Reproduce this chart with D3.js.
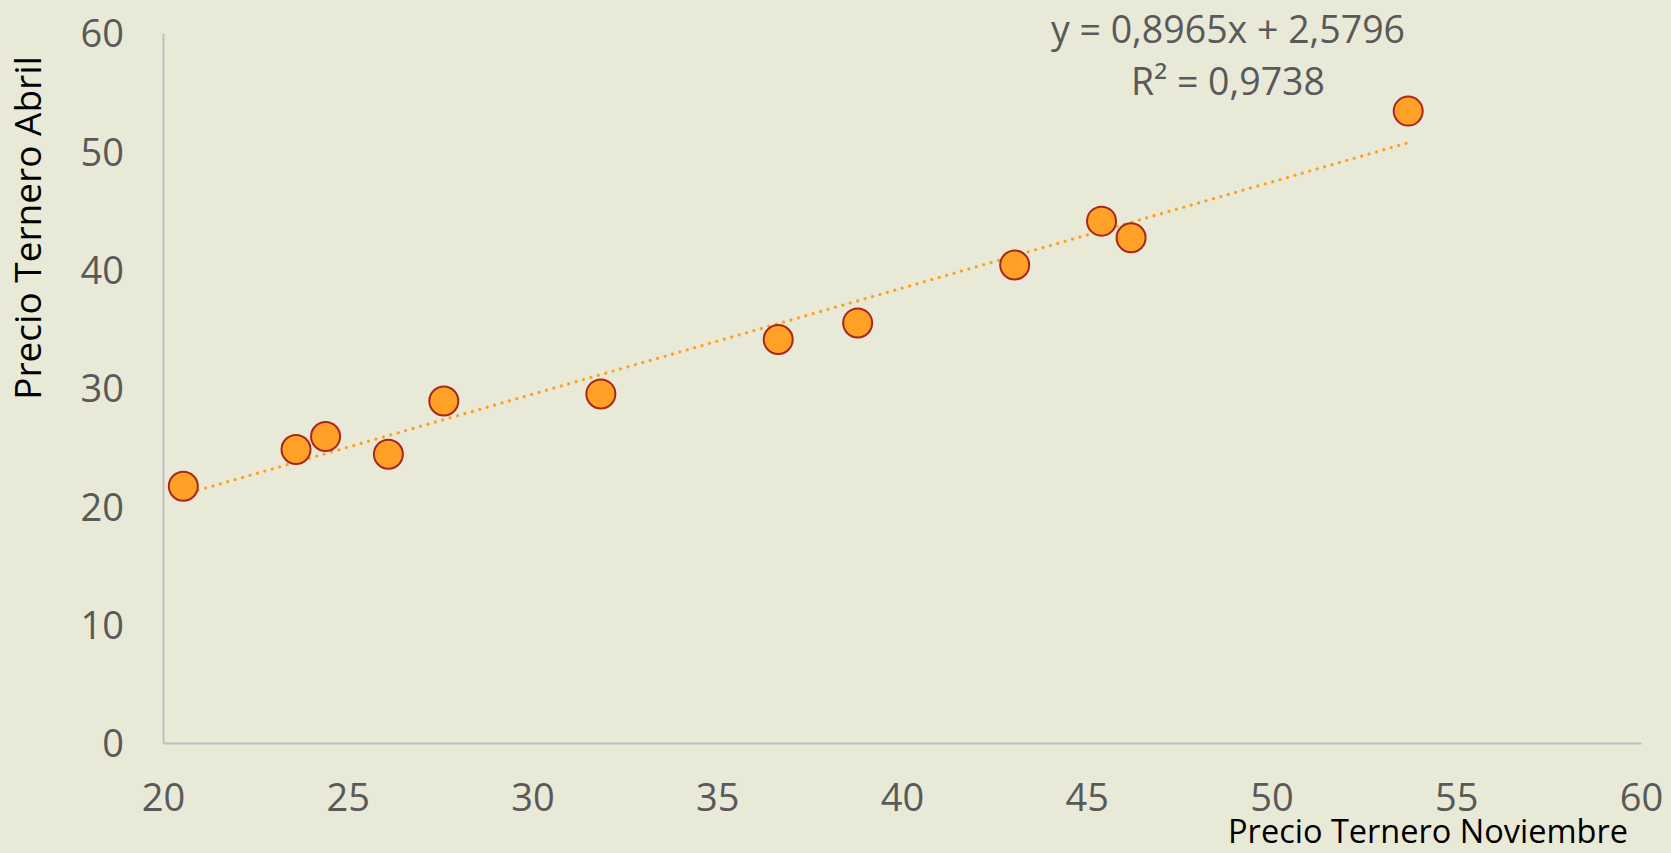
<!DOCTYPE html>
<html>
<head>
<meta charset="utf-8">
<script src="https://cdn.jsdelivr.net/npm/d3@7"></script>
<style>
  body { margin: 0; background: #e9e9d8; }
  svg { display: block; }
  .tick text { fill: #595959; }
</style>
</head>
<body>
<div id="scatter"></div>
<script>
// data
let precioNoviembre = [20.55, 23.6, 24.4, 26.1, 27.6, 31.85, 36.65, 38.8, 43.05, 45.4, 46.2, 53.7];
let precioAbril     = [21.7, 24.8, 25.9, 24.4, 28.9, 29.5, 34.1, 35.5, 40.4, 44.1, 42.7, 53.4];
let xTicks = [20, 25, 30, 35, 40, 45, 50, 55, 60];
let yTicks = [0, 10, 20, 30, 40, 50, 60];
// trend line from the chart label
let trendSlope = 0.8965;
let trendIntercept = 2.5796;
let trendLabels = ["y = 0,8965x + 2,5796", "R² = 0,9738"];

let svgWidth = 1671;
let svgHeight = 853;

let margin = {
    top: 33,
    right: 30,
    bottom: 110,
    left: 163
};

let width = svgWidth - (margin.left + margin.right);
let height = svgHeight - (margin.top + margin.bottom);

let svg = d3.select("#scatter")
.append("svg")
.attr("width", svgWidth)
.attr("height", svgHeight);

svg.append("rect")
.attr("width", svgWidth)
.attr("height", svgHeight)
.attr("fill", "#e9e9d8");

let chartGroup = svg.append("g")
.attr("transform", `translate(${margin.left}, ${margin.top})`);

let xLinearScale = d3.scaleLinear().domain([20, 60]).range([0, width]);
let yLinearScale = d3.scaleLinear().domain([0, 60]).range([height, 0]);

let tickFont = "'Open Sans', sans-serif";

// axes, no tick marks, grey domain line
let bottomAxis = d3.axisBottom(xLinearScale).tickValues(xTicks).tickSize(0).tickPadding(41);
let leftAxis = d3.axisLeft(yLinearScale).tickValues(yTicks).tickSize(0).tickPadding(39);

let xAxis = chartGroup.append("g")
.attr("transform", `translate(0, ${height})`)
.call(bottomAxis);

let yAxis = chartGroup.append("g")
.call(leftAxis);

[xAxis, yAxis].forEach(function(ax) {
    ax.select(".domain").attr("stroke", "#bfbfbf").attr("stroke-width", 2);
    ax.selectAll(".tick text")
    .attr("font-family", tickFont)
    .attr("font-size", "38px");
});
yAxis.selectAll(".tick text").attr("dy", "0.36em");

// dotted trend line
let pts = precioNoviembre.map((x, i) => ({x: x, y: precioAbril[i]}));
let xMin = d3.min(precioNoviembre);
let xMax = d3.max(precioNoviembre);

chartGroup.append("line")
.attr("x1", xLinearScale(xMin))
.attr("y1", yLinearScale(trendSlope * xMin + trendIntercept))
.attr("x2", xLinearScale(xMax))
.attr("y2", yLinearScale(trendSlope * xMax + trendIntercept))
.attr("stroke", "#ff9f22")
.attr("stroke-width", 3.2)
.attr("stroke-linecap", "round")
.attr("stroke-dasharray", "0.01 7.7");

// points
chartGroup.append("g")
.selectAll("circle")
.data(pts)
.enter()
.append("circle")
.attr("cx", d => xLinearScale(d.x))
.attr("cy", d => yLinearScale(d.y))
.attr("r", 14.5)
.attr("fill", "#ffa126")
.attr("stroke", "#a8261c")
.attr("stroke-width", 2);

// equation label
let eqGroup = svg.append("g")
.attr("font-family", tickFont)
.attr("font-size", "37.5px")
.attr("fill", "#595959")
.attr("text-anchor", "middle");

eqGroup.selectAll("text")
.data(trendLabels)
.enter()
.append("text")
.attr("x", 1228)
.attr("y", (d, i) => 29 + i * 52)
.attr("dy", "0.36em")
.text(d => d);

// axis titles
svg.append("text")
.attr("transform", "rotate(-90)")
.attr("x", -228)
.attr("y", 28)
.attr("dy", "0.36em")
.attr("text-anchor", "middle")
.attr("font-family", tickFont)
.attr("font-size", "37px")
.attr("fill", "#000000")
.text("Precio Ternero Abril");

svg.append("text")
.attr("x", 1628)
.attr("y", 843)
.attr("text-anchor", "end")
.attr("font-family", tickFont)
.attr("font-size", "32.5px")
.attr("fill", "#000000")
.text("Precio Ternero Noviembre");
</script>
</body>
</html>
